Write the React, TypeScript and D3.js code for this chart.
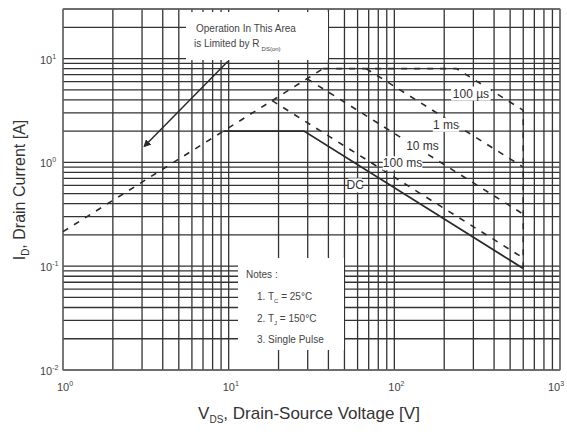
import React from "react";
import * as d3 from "d3";

// ---- data ----
const xDecades = [1, 10, 100, 1000];
const yDecades = [0.01, 0.1, 1, 10];
const xTickExp = ["0", "1", "2", "3"];
const yTickExp = ["-2", "-1", "0", "1"];

// RDS(on) limit line
const rdsV = [1, 37.2];
const rdsI = [0.215, 8];
// 100 µs
const us100V = [37.2, 237.5, 600, 600];
const us100I = [8, 8, 3.17, 0.095];
// 1 ms
const ms1V = [67.5, 600];
const ms1I = [8, 0.9];
// 10 ms
const ms10V = [29.7, 600];
const ms10I = [6.4, 0.317];
// 100 ms
const ms100V = [18.3, 600];
const ms100I = [3.93, 0.12];
// DC
const dcV = [9.3, 28.5, 600];
const dcI = [2, 2, 0.095];
// annotation arrow (tail -> head)
const arrowV = [9.9, 3.1];
const arrowI = [9.4, 1.43];

const curveLabels = ["100 µs", "1 ms", "10 ms", "100 ms", "DC"];
const labelV = [290, 205, 148, 112, 58];
const labelI = [4.6, 2.3, 1.45, 0.98, 0.6];

const W = 567;
const H = 434;

export default function App() {
  const x = d3.scaleLog().domain([1, 1000]).range([63, 560]);
  const y = d3.scaleLog().domain([0.01, 30]).range([370, 9]);

  const xGrid: number[] = [];
  for (let k = 0; k < 3; k++) for (let m = 1; m <= 9; m++) xGrid.push(m * Math.pow(10, k));
  xGrid.push(1000);
  const yGrid: number[] = [];
  for (let k = -2; k < 1; k++) for (let m = 1; m <= 9; m++) yGrid.push(m * Math.pow(10, k));
  yGrid.push(10, 20, 30);

  const line = d3
    .line<[number, number]>()
    .x((d) => x(d[0]))
    .y((d) => y(d[1]));
  const pts = (vs: number[], is: number[]) => vs.map((v, i) => [v, is[i]] as [number, number]);

  const dashed = "6,7";
  const ink = "#2a2a2a";
  const font = "'Liberation Sans', Arial, sans-serif";

  return (
    <svg
      width={W}
      height={H}
      style={{ position: "absolute", left: 0, top: 0, background: "#fff" }}
      fontFamily={font}
    >
      <defs>
        <marker id="ah" viewBox="0 0 10 10" refX="8" refY="5" markerWidth="5" markerHeight="5" orient="auto">
          <path d="M0,0 L10,5 L0,10 z" fill={ink} />
        </marker>
      </defs>
      <rect x={0} y={0} width={W} height={H} fill="#fff" />
      {/* grid */}
      <g stroke="#333" strokeWidth={1.3}>
        {xGrid.map((v, i) => (
          <line key={"x" + i} x1={x(v)} x2={x(v)} y1={y(30)} y2={y(0.01)} />
        ))}
        {yGrid.map((v, i) => (
          <line key={"y" + i} x1={x(1)} x2={x(1000)} y1={y(v)} y2={y(v)} />
        ))}
      </g>
      <rect x={x(1)} y={y(30)} width={x(1000) - x(1)} height={y(0.01) - y(30)} fill="none" stroke="#777" strokeWidth={1} />

      {/* text boxes covering the grid */}
      <rect x={186} y={12} width={142} height={48} fill="#fff" />
      <rect x={238} y={258} width={106} height={92} fill="#fff" />

      {/* curves */}
      <g fill="none" stroke={ink} strokeWidth={1.6}>
        <path d={line(pts(rdsV, rdsI)) || ""} strokeDasharray={dashed} />
        <path d={line(pts(us100V, us100I)) || ""} strokeDasharray={dashed} />
        <path d={line(pts(ms1V, ms1I)) || ""} strokeDasharray={dashed} />
        <path d={line(pts(ms10V, ms10I)) || ""} strokeDasharray={dashed} />
        <path d={line(pts(ms100V, ms100I)) || ""} strokeDasharray={dashed} />
        <path d={line(pts(dcV, dcI)) || ""} strokeWidth={1.8} />
        <path d={line(pts(arrowV, arrowI)) || ""} strokeWidth={1.5} markerEnd="url(#ah)" />
      </g>

      {/* curve labels */}
      {curveLabels.map((t, i) => (
        <g key={t}>
          <rect
            x={x(labelV[i]) - t.length * 3.3}
            y={y(labelI[i]) - 7}
            width={t.length * 6.6}
            height={14}
            fill="#fff"
          />
          <text
            x={x(labelV[i])}
            y={y(labelI[i])}
            textAnchor="middle"
            dominantBaseline="central"
            fontSize={12}
            fill="#333"
          >
            {t}
          </text>
        </g>
      ))}

      {/* annotation text */}
      <g fontSize={10} fill="#444">
        <text x={196} y={32}>Operation In This Area</text>
        <text x={194} y={47}>
          is Limited by R
          <tspan fontSize={6} dy={4} dx={2}>DS(on)</tspan>
        </text>
      </g>
      <g fontSize={10} fill="#444">
        <text x={246} y={278}>Notes :</text>
        <text x={257} y={300}>
          1. T<tspan fontSize={6} dy={3}>C</tspan>
          <tspan dy={-3}> = 25°C</tspan>
        </text>
        <text x={257} y={322}>
          2. T<tspan fontSize={6} dy={3}>J</tspan>
          <tspan dy={-3}> = 150°C</tspan>
        </text>
        <text x={257} y={343}>3. Single Pulse</text>
      </g>

      {/* tick labels */}
      <g fontSize={11} fill="#444">
        {xDecades.map((v, i) => (
          <text key={"xt" + i} x={Math.min(x(v) - 6, 548)} y={391}>
            10<tspan fontSize={7} dy={-5}>{xTickExp[i]}</tspan>
          </text>
        ))}
        {yDecades.map((v, i) => (
          <text key={"yt" + i} x={40} y={y(v) + 5}>
            10<tspan fontSize={7} dy={-5}>{yTickExp[i]}</tspan>
          </text>
        ))}
      </g>

      {/* axis titles */}
      <text x={309} y={419} textAnchor="middle" fontSize={17} fill="#333">
        V<tspan fontSize={10} dy={4}>DS</tspan>
        <tspan dy={-4}>, Drain-Source Voltage [V]</tspan>
      </text>
      <text
        transform={`translate(25,${190}) rotate(-90)`}
        textAnchor="middle"
        fontSize={16}
        fill="#333"
      >
        I<tspan fontSize={10} dy={4}>D</tspan>
        <tspan dy={-4}>, Drain Current [A]</tspan>
      </text>
    </svg>
  );
}
